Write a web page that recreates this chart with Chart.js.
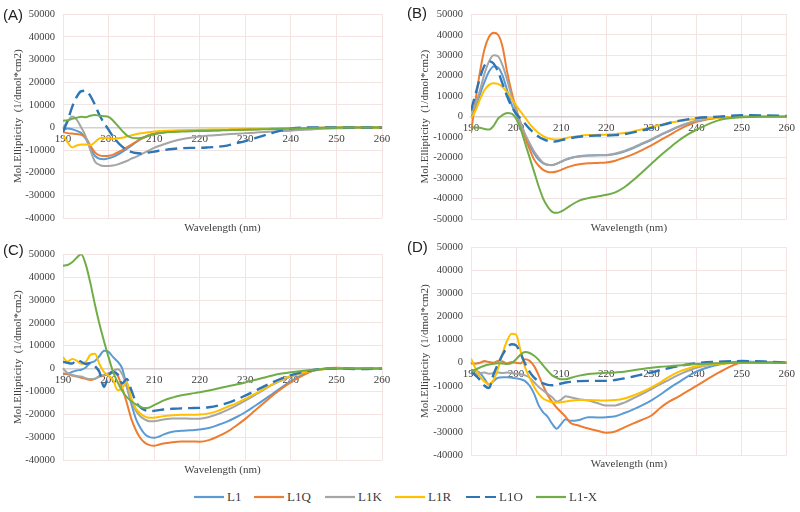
<!DOCTYPE html>
<html><head><meta charset="utf-8">
<script src="https://cdn.jsdelivr.net/npm/chart.js@4.4.1/dist/chart.umd.min.js"></script>
<style>
html,body{margin:0;padding:0;background:#fff;}
#wrap{position:relative;width:800px;height:512px;overflow:hidden;background:#fff;}
canvas{position:absolute;}
.plab{position:absolute;font-family:"Liberation Sans",Arial,sans-serif;font-size:15px;line-height:18px;color:#222;}
.leg{position:absolute;top:488px;height:18px;display:flex;align-items:center;font-family:"Liberation Serif","Times New Roman",serif;font-size:13px;color:#404040;white-space:nowrap;}
.leg svg{margin-right:3px;}
</style></head>
<body><div id="wrap">
<canvas id="cA" width="400" height="240" style="left:0;top:0"></canvas>
<canvas id="cB" width="400" height="240" style="left:400px;top:0"></canvas>
<canvas id="cC" width="400" height="242" style="left:0;top:240px"></canvas>
<canvas id="cD" width="400" height="242" style="left:400px;top:233px"></canvas>
<div class="plab" style="left:3px;top:6px">(A)</div>
<div class="plab" style="left:407px;top:4px">(B)</div>
<div class="plab" style="left:3px;top:241px">(C)</div>
<div class="plab" style="left:407px;top:238px">(D)</div>
<div id="legendBox"></div>
</div>
<script>
// ---------- shared categories / ticks ----------
const WAVELENGTHS = [190,191,192,193,194,195,196,197,198,199,200,201,202,203,204,205,206,207,208,209,210,211,212,
  214,216,218,220,222,224,226,228,230,232,234,236,238,240,245,250,255,260];
const X_TICKS = [190,200,210,220,230,240,250,260];
const Y_TICKS_A = [-40000,-30000,-20000,-10000,0,10000,20000,30000,40000,50000];
const Y_TICKS_B = [-50000,-40000,-30000,-20000,-10000,0,10000,20000,30000,40000,50000];
const Y_TICKS_C = [-40000,-30000,-20000,-10000,0,10000,20000,30000,40000,50000];
const Y_TICKS_D = [-40000,-30000,-20000,-10000,0,10000,20000,30000,40000,50000];
const SERIES = ['L1','L1Q','L1K','L1R','L1O','L1-X'];
const COLORS = ['#5b9bd5','#ed7d31','#a5a5a5','#ffc000','#2e75b6','#70ad47'];

// ---------- Panel A ----------
const A_L1  = [-1000,-500,-800,-1500,-2500,-5000,-9000,-12500,-13800,-14000,-13600,-13000,-12000,-10800,-9500,-8000,-6500,-5200,-4200,-3300,-2800,-2400,-2100,
  -1800,-1600,-1500,-1400,-1300,-1200,-1100,-1000,-900,-800,-700,-600,-500,-400,-200,-100,0,0];
const A_L1Q = [-2000,-2500,-2700,-2900,-3200,-4500,-8000,-11000,-12300,-12600,-12500,-12000,-11000,-10000,-8800,-7600,-6400,-5200,-4200,-3300,-2800,-2400,-2100,
  -1800,-1600,-1500,-1400,-1300,-1200,-1100,-1000,-900,-800,-700,-600,-500,-400,-200,-100,0,0];
const A_L1K = [0,2500,4800,3500,0,-4000,-10000,-15000,-16500,-17000,-17000,-16800,-16300,-15600,-14800,-13800,-13000,-12000,-11000,-10000,-9000,-8200,-7500,
  -6200,-5200,-4500,-4000,-3600,-3300,-3000,-2800,-2500,-2300,-2000,-1800,-1600,-1400,-800,-400,-100,0];
const A_L1R = [-3500,-6500,-8800,-8000,-7500,-7500,-7800,-6500,-4800,-4500,-4800,-5000,-4800,-4500,-4000,-3500,-3000,-2600,-2300,-2000,-1800,-1600,-1500,
  -1300,-1200,-1100,-1000,-950,-900,-850,-800,-750,-700,-600,-500,-400,-300,-100,0,0,0];
const A_L1O = [-2000,3000,9000,13500,16000,16200,14000,10000,5500,2000,-1000,-4000,-6500,-8500,-10000,-10800,-11300,-11500,-11300,-11000,-10700,-10300,-10000,
  -9500,-9200,-9000,-9000,-8800,-8500,-8000,-7000,-6000,-4800,-3600,-2400,-1300,-500,0,0,0,0];
const A_L1X = [3000,3200,3800,4300,4700,4500,5200,5500,5200,5000,4700,3000,800,-1500,-3500,-4500,-4800,-4700,-4200,-3600,-3000,-2600,-2300,
  -2000,-1800,-1700,-1500,-1400,-1300,-1200,-1100,-1000,-900,-800,-700,-600,-500,-200,-100,0,0];

// ---------- Panel B ----------
const B_L1  = [0,4000,11000,17000,22000,24500,24000,20000,13000,6000,1000,-3500,-9000,-14000,-18000,-21000,-22800,-23500,-23600,-23000,-22000,-21000,-20300,
  -19400,-19000,-18900,-18800,-18200,-17000,-15300,-13300,-11300,-9000,-7000,-5000,-3400,-2100,-400,0,0,0];
const B_L1Q = [-8000,8000,22000,33000,39000,41000,40000,34000,22000,12000,4000,-3000,-10000,-16000,-21000,-24000,-26000,-27000,-27200,-26800,-26000,-25000,-24300,
  -23300,-22800,-22600,-22400,-21500,-20000,-18300,-16200,-14000,-11500,-9000,-6500,-4300,-2500,-500,0,0,0];
const B_L1K = [2000,6000,13000,21000,27000,30000,29500,25000,18000,10000,3000,-3000,-8500,-13000,-17000,-20000,-22500,-23500,-23700,-23000,-22000,-21000,-20200,
  -19500,-19000,-18800,-18700,-18000,-16800,-15000,-13000,-11000,-8800,-6800,-4800,-3200,-2000,-400,0,0,0];
const B_L1R = [-1000,3000,8500,13000,15500,16300,16000,14500,12000,9000,5500,2500,-500,-3500,-6000,-8000,-9500,-10500,-11000,-11200,-11000,-10500,-10000,
  -9400,-9000,-8900,-8800,-8500,-8000,-7200,-6200,-5000,-4000,-3000,-2200,-1600,-1100,-500,-200,-200,-200];
const B_L1O = [3000,11000,19000,25000,27000,26000,22000,16000,10000,5000,1500,-1000,-3500,-6000,-8000,-9800,-11000,-11800,-12300,-12000,-11500,-11000,-10500,
  -9800,-9400,-9200,-9200,-9000,-8500,-7700,-6700,-5500,-4300,-3100,-2100,-1300,-700,0,700,600,300];
const B_L1X = [-5300,-5300,-5400,-6000,-6300,-4500,-1000,800,1800,1500,-1000,-6000,-13000,-20000,-27000,-34000,-40000,-44000,-46500,-47000,-46300,-45000,-43500,
  -41000,-39800,-39000,-38200,-37000,-34500,-31000,-27000,-23000,-19000,-15300,-11800,-8800,-6400,-1700,-300,0,0];

// ---------- Panel C ----------
const C_L1  = [-2500,-2200,-1500,-800,-500,500,2500,3300,5500,7800,7300,5000,3000,0,-8000,-15500,-22000,-26000,-28800,-30000,-30300,-29800,-28900,
  -27600,-27200,-27000,-26700,-26000,-24700,-23200,-21300,-19100,-16500,-13800,-11000,-8200,-5500,-800,0,0,0];
const C_L1Q = [-2000,-2500,-3000,-3500,-4000,-4500,-5000,-4500,-3500,-3000,-2500,-1800,-3000,-8500,-15000,-22000,-27000,-30500,-32500,-33500,-33800,-33300,-32800,
  -32200,-31900,-31900,-32000,-31300,-29700,-27700,-25000,-22000,-18600,-15200,-11800,-8700,-6000,-900,400,0,0];
const C_L1K = [0,-2000,-2800,-3200,-3500,-4200,-4600,-4500,-3200,-2800,-2000,-1000,-300,-2500,-8000,-14000,-18500,-21000,-22300,-23000,-23000,-22700,-22300,
  -21800,-21800,-21900,-21900,-21200,-19900,-18200,-16200,-14000,-11700,-9300,-7000,-5100,-3500,-900,0,0,0];
const C_L1R = [5000,3000,4200,3500,2000,3000,6000,6500,2000,-1500,-3000,-5000,-9500,-8500,-6000,-13000,-17500,-19800,-21000,-21500,-21500,-21200,-20800,
  -20400,-20200,-20200,-20100,-19600,-18500,-16800,-15200,-13300,-11200,-9000,-6800,-4800,-3200,-800,0,0,0];
const C_L1O = [3000,2500,2200,3800,3000,2000,2500,1000,-1500,-8000,-3000,-1500,-2500,-6500,-4500,-9500,-14500,-17000,-18200,-18600,-18500,-18200,-17900,
  -17600,-17400,-17300,-17200,-16900,-16200,-15100,-13600,-11800,-9900,-7900,-6000,-4300,-2900,-600,0,-200,0];
const C_L1X = [45000,45300,46500,48500,50000,45500,37500,28000,19500,12000,5000,-1500,-6000,-9800,-12500,-14300,-15700,-16700,-17300,-17000,-16000,-15000,-14000,
  -12700,-11700,-11000,-10400,-9600,-8700,-7800,-7000,-6100,-5000,-4000,-3000,-2200,-1600,-500,0,0,0];

// ---------- Panel D ----------
const D_L1  = [-3000,-3500,-4500,-7000,-9500,-8000,-6500,-6300,-6300,-6500,-6800,-7200,-8000,-10000,-13500,-18500,-21500,-23500,-26500,-28600,-26500,-24500,-25200,
  -24800,-23600,-23700,-23600,-23200,-21800,-20200,-18400,-16300,-13800,-11000,-8500,-6000,-3800,-800,500,200,0];
const D_L1Q = [-300,-500,0,700,300,0,700,500,-300,300,0,-300,1500,800,-1500,-5500,-10000,-14000,-17000,-19500,-21500,-23500,-26000,
  -27300,-28500,-29500,-30400,-29800,-28000,-26300,-24700,-22900,-19500,-16800,-14700,-12300,-10000,-4200,0,300,0];
const D_L1K = [-5000,-4800,-4500,-4300,-4800,-4500,-4300,-4500,-4300,-4500,-4800,-5000,-5500,-6500,-8500,-10500,-12000,-13500,-15000,-16800,-16000,-14500,-15000,
  -15800,-16400,-17500,-18600,-18500,-17300,-15400,-13500,-11400,-9300,-7300,-5300,-3600,-2200,-500,0,0,0];
const D_L1R = [1800,-2500,-6000,-8200,-9200,-7500,-2500,4000,9500,12500,12200,5000,-2000,-6500,-10500,-13500,-15500,-16500,-17200,-17300,-17100,-16800,-16500,
  -16200,-16200,-16300,-16400,-16200,-15500,-14200,-12600,-10700,-8500,-6000,-4000,-2600,-1500,-500,0,0,0];
const D_L1O = [-4000,-5500,-7500,-10000,-11000,-5000,-500,3500,6500,8000,7500,4000,-500,-4000,-6500,-8000,-9000,-9600,-9800,-9500,-9000,-8600,-8300,
  -8000,-7900,-7900,-7900,-7500,-6800,-6000,-5100,-4200,-3200,-2300,-1500,-800,-200,400,700,500,0];
const D_L1X = [-4000,-3000,-2100,-1300,-800,-500,-200,-300,-600,-200,1500,3500,4600,4200,3000,1200,-1200,-3500,-5500,-6600,-7200,-7200,-6600,
  -5600,-4900,-4600,-4400,-4200,-3900,-3300,-2700,-2200,-1800,-1500,-1200,-900,-600,-200,0,0,0];

// ---------- drawing ----------
const SERIF = '"Liberation Serif","Times New Roman",serif';
const TXT = '#404040';
const GRID = '#f3e3e3';

function makeDatasets(arrs){
  return arrs.map((vals,i)=>({
    label: SERIES[i], data: vals, borderColor: COLORS[i], backgroundColor: COLORS[i],
    borderWidth: i===4 ? 2.4 : 2, borderDash: i===4 ? [12,6] : [],
    pointRadius: 0, fill: false, cubicInterpolationMode: 'monotone', order: 6 - i
  }));
}

function makePanel(id, arrs, yTicks, L){
  new Chart(document.getElementById(id), {
    type: 'line',
    data: { labels: WAVELENGTHS, datasets: makeDatasets(arrs) },
    options: {
      responsive: false, animation: false, devicePixelRatio: 1,
      layout: { padding: { left: 0, right: L.right, top: L.top, bottom: 0 } },
      plugins: { legend: { display: false }, tooltip: { enabled: false } },
      scales: {
        y: {
          type: 'linear', position: 'left', min: yTicks[0], max: yTicks[yTicks.length-1],
          afterBuildTicks: s => { s.ticks = yTicks.map(v => ({ value: v })); },
          afterFit: s => { s.width = L.yW; },
          ticks: { font: { family: SERIF, size: 10.5 }, color: TXT, padding: 8, callback: v => String(v) },
          grid: { color: GRID, drawTicks: false },
          border: { display: true, color: GRID },
          title: { display: true, text: 'Mol.Ellipticity  (1/dmol*cm2)', font: { family: SERIF, size: 11 }, color: TXT,
                   padding: { top: L.yTitle, bottom: 0 } }
        },
        x: {
          type: 'linear', position: { y: 0 }, min: 190, max: 260,
          afterBuildTicks: s => { s.ticks = X_TICKS.map(v => ({ value: v })); },
          ticks: { font: { family: SERIF, size: 11 }, color: TXT, padding: 5, maxRotation: 0, autoSkip: false },
          grid: { color: GRID, drawTicks: false },
          border: { display: true, color: '#d6d0d0', width: 1.5 }
        },
        x2: {
          type: 'linear', position: 'bottom', min: 190, max: 260,
          afterFit: s => { s.height = L.xH; },
          ticks: { display: false }, grid: { display: false, drawTicks: false }, border: { display: false },
          title: { display: true, text: 'Wavelength (nm)', font: { family: SERIF, size: 11 }, color: TXT,
                   padding: { top: 0, bottom: L.xPad } }
        }
      }
    }
  });
}

makePanel('cA', [A_L1,A_L1Q,A_L1K,A_L1R,A_L1O,A_L1X], Y_TICKS_A, { right: 18, top: 11, yW: 63, yTitle: 11.4, xH: 22, xPad: 5.4 });
makePanel('cB', [B_L1,B_L1Q,B_L1K,B_L1R,B_L1O,B_L1X], Y_TICKS_B, { right: 12, top: 11, yW: 71, yTitle: 18.4, xH: 21, xPad: 5.4 });
makePanel('cC', [C_L1,C_L1Q,C_L1K,C_L1R,C_L1O,C_L1X], Y_TICKS_C, { right: 18, top: 12, yW: 63, yTitle: 11.4, xH: 22, xPad: 5.4 });
makePanel('cD', [D_L1,D_L1Q,D_L1K,D_L1R,D_L1O,D_L1X], Y_TICKS_D, { right: 12, top: 12, yW: 71, yTitle: 18.4, xH: 20, xPad: 4.4 });

// ---------- legend ----------
const LEG_X = [194,254,325,395,466,536];
const box = document.getElementById('legendBox');
SERIES.forEach((name,i)=>{
  const d = document.createElement('div');
  d.className = 'leg';
  d.style.left = LEG_X[i] + 'px';
  const dash = i===4 ? ' stroke-dasharray="14 5"' : '';
  d.innerHTML = '<svg width="30" height="4"><line x1="0" y1="2" x2="30" y2="2" stroke="' + COLORS[i] + '" stroke-width="2.2"' + dash + '/></svg>' +
                '<span>' + name + '</span>';
  box.appendChild(d);
});
</script>
</body></html>
